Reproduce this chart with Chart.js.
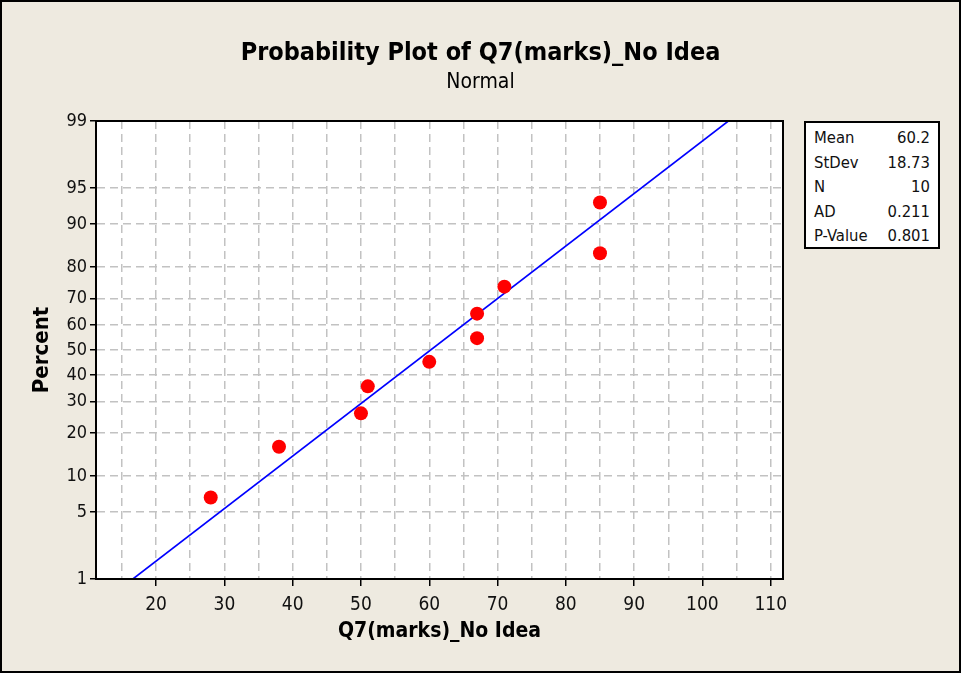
<!DOCTYPE html>
<html>
<head>
<meta charset="utf-8">
<script src="https://cdn.jsdelivr.net/npm/chart.js@4.4.0/dist/chart.umd.min.js"></script>
<style>
  html, body { margin: 0; padding: 0; background: #fff; }
  #wrap { position: relative; width: 961px; height: 675px; overflow: hidden; }
  #frame {
    position: absolute; left: 0; top: 0; width: 957px; height: 669px;
    border: 2px solid #000; background: #EEEAE0;
  }
  #plot { position: absolute; left: 0; top: 0; }
  #stats {
    position: absolute; left: 804px; top: 121px; width: 136px; height: 128px;
    box-sizing: border-box; border: 2px solid #000; background: #fff;
    padding: 3px 8px 0 8px;
    font: 16.5px 'DejaVu Sans Condensed', 'DejaVu Sans', sans-serif; color: #111;
  }
  #stats div { display: flex; justify-content: space-between; line-height: 24.6px; }
</style>
</head>
<body>
<div id="wrap">
  <div id="frame"></div>
  <canvas id="plot" width="961" height="675"></canvas>
  <div id="stats"></div>
</div>
<script>
const FONT = "'DejaVu Sans Condensed', 'DejaVu Sans', sans-serif";

// observed marks and their plotting positions (percent)
const marks    = [28, 38, 50, 51, 60, 67, 67, 71, 85, 85];
const percents = [6.7, 16.3, 26.0, 35.6, 45.2, 54.8, 64.4, 74.0, 83.7, 93.3];

// fitted normal line, end points
const fitX   = [16.6, 103.8];
const fitPct = [1, 99];

const xTicks = [20, 30, 40, 50, 60, 70, 80, 90, 100, 110];
const yTicks = [1, 5, 10, 20, 30, 40, 50, 60, 70, 80, 90, 95, 99];

const statLabels = ['Mean', 'StDev', 'N', 'AD', 'P-Value'];
const statValues = ['60.2', '18.73', '10', '0.211', '0.801'];

// inverse standard normal CDF (Acklam)
function probit(p) {
  const a = [-39.69683028665376, 220.9460984245205, -275.9285104469687, 138.3577518672690, -30.66479806614716, 2.506628277459239];
  const b = [-54.47609879822406, 161.5858368580409, -155.6989798598866, 66.80131188771972, -13.28068155288572];
  const c = [-0.007784894002430293, -0.3223964580411365, -2.400758277161838, -2.549732539343734, 4.374664141464968, 2.938163982698783];
  const d = [0.007784695709041462, 0.3224671290700398, 2.445134137142996, 3.754408661907416];
  const pl = 0.02425;
  let q, r;
  if (p < pl) {
    q = Math.sqrt(-2 * Math.log(p));
    return (((((c[0]*q+c[1])*q+c[2])*q+c[3])*q+c[4])*q+c[5]) / ((((d[0]*q+d[1])*q+d[2])*q+d[3])*q+1);
  }
  if (p > 1 - pl) {
    q = Math.sqrt(-2 * Math.log(1 - p));
    return -(((((c[0]*q+c[1])*q+c[2])*q+c[3])*q+c[4])*q+c[5]) / ((((d[0]*q+d[1])*q+d[2])*q+d[3])*q+1);
  }
  q = p - 0.5;
  r = q * q;
  return (((((a[0]*r+a[1])*r+a[2])*r+a[3])*r+a[4])*r+a[5])*q / (((((b[0]*r+b[1])*r+b[2])*r+b[3])*r+b[4])*r+1);
}

// stats box
const stats = document.getElementById('stats');
statLabels.forEach((lab, i) => {
  const row = document.createElement('div');
  row.innerHTML = '<span>' + lab + '</span><span>' + statValues[i] + '</span>';
  stats.appendChild(row);
});

// white plot area + black frame round it
const plotFrame = {
  id: 'plotFrame',
  beforeDraw(chart) {
    const { ctx, chartArea: a } = chart;
    ctx.save();
    ctx.fillStyle = '#fff';
    ctx.fillRect(a.left, a.top, a.right - a.left, a.bottom - a.top);
    ctx.restore();
  },
  afterDraw(chart) {
    const { ctx, chartArea: a } = chart;
    ctx.save();
    ctx.strokeStyle = '#000';
    ctx.lineWidth = 2;
    ctx.strokeRect(a.left, a.top, a.right - a.left, a.bottom - a.top);
    ctx.restore();
  }
};

const gridColor = '#C2C2C2';

new Chart(document.getElementById('plot'), {
  data: {
    datasets: [
      {
        type: 'scatter',
        order: 0,
        data: marks.map((x, i) => ({ x, y: probit(percents[i] / 100) })),
        pointRadius: 7,
        pointBackgroundColor: '#FF0000',
        pointBorderWidth: 0,
        pointHoverRadius: 7,
      },
      {
        type: 'line',
        order: 1,
        data: fitX.map((x, i) => ({ x, y: probit(fitPct[i] / 100) })),
        borderColor: '#0000FF',
        borderWidth: 1.6,
        pointRadius: 0,
        fill: false,
      },
    ],
  },
  options: {
    responsive: false,
    animation: false,
    devicePixelRatio: 1,
    layout: { padding: 0 },
    plugins: {
      legend: { display: false },
      tooltip: { enabled: false },
      title: {
        display: true,
        text: 'Probability Plot of Q7(marks)_No Idea',
        color: '#000',
        font: { family: FONT, size: 25, weight: 'bold' },
        padding: { top: 38, bottom: 1.9 },
      },
      subtitle: {
        display: true,
        text: 'Normal',
        color: '#000',
        font: { family: FONT, size: 21 },
        padding: { top: 0, bottom: 25.9 },
      },
    },
    scales: {
      x: {
        type: 'linear',
        position: 'bottom',
        min: 11.2,
        max: 111.8,
        afterBuildTicks: scale => {
          const t = [];
          for (let v = 15; v <= 110; v += 5) t.push({ value: v });
          scale.ticks = t;
        },
        afterFit: scale => { scale.height = 96; },
        ticks: {
          autoSkip: false,
          maxRotation: 0,
          padding: 8,
          color: '#111',
          font: { family: FONT, size: 19 },
          callback: v => xTicks.includes(v) ? String(v) : '',
        },
        grid: {
          color: gridColor,
          lineWidth: 1.5,
          drawTicks: true,
          tickLength: 7,
          tickWidth: 1.5,
          tickColor: ctx => (ctx.tick && xTicks.includes(ctx.tick.value)) ? '#000' : 'rgba(0,0,0,0)',
        },
        border: { display: true, color: '#000', width: 2, dash: [8, 5] },
        title: {
          display: true,
          text: 'Q7(marks)_No Idea',
          color: '#000',
          font: { family: FONT, size: 21, weight: 'bold' },
          padding: { top: 0, bottom: 31 },
        },
      },
      y: {
        type: 'linear',
        position: 'left',
        min: probit(0.01),
        max: probit(0.99),
        afterBuildTicks: scale => {
          scale.ticks = yTicks.map(p => ({ value: probit(p / 100) }));
        },
        afterFit: scale => { scale.width = 96; },
        ticks: {
          autoSkip: false,
          padding: 3,
          color: '#111',
          font: { family: FONT, size: 18 },
          callback: (v, i) => String(yTicks[i]),
        },
        grid: {
          color: gridColor,
          lineWidth: 1.5,
          drawTicks: true,
          tickLength: 6,
          tickWidth: 1.5,
          tickColor: '#000',
        },
        border: { display: true, color: '#000', width: 2, dash: [8, 5] },
        title: {
          display: true,
          text: 'Percent',
          color: '#000',
          font: { family: FONT, size: 22, weight: 'bold' },
          padding: { top: 29.5, bottom: 0 },
        },
      },
      // empty axis that keeps room on the right for the stats box
      pad: {
        type: 'linear',
        position: 'right',
        display: true,
        ticks: { display: false },
        grid: { display: false, drawTicks: false },
        border: { display: false },
        afterFit: scale => { scale.width = 178; },
      },
    },
  },
  plugins: [plotFrame],
});
</script>
</body>
</html>
